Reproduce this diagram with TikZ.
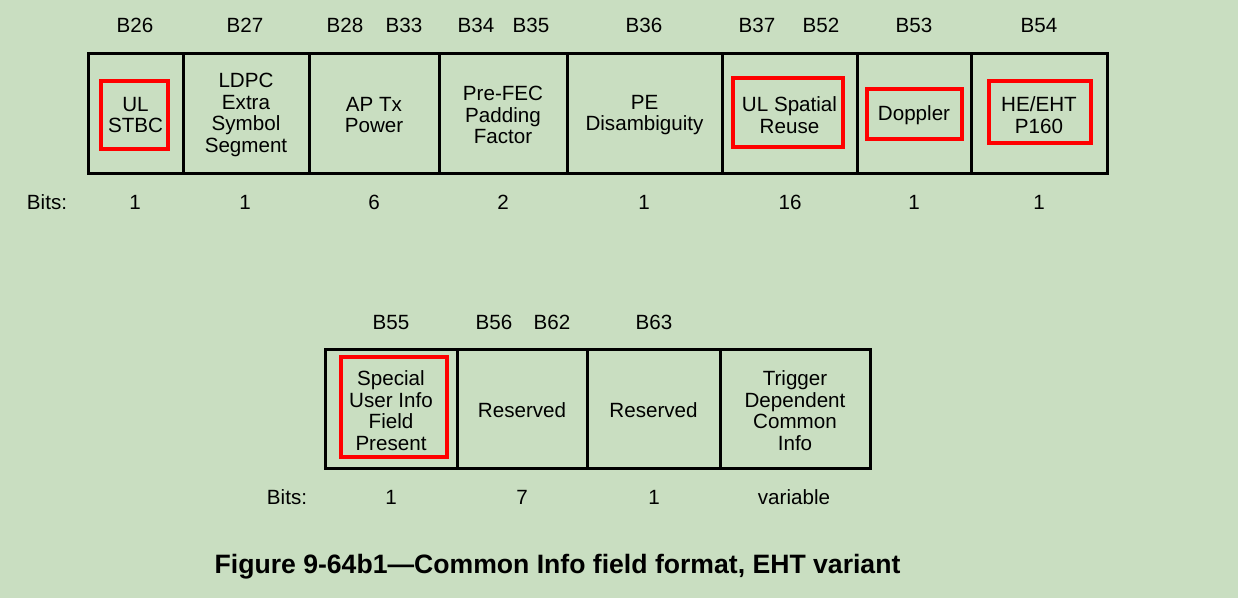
\documentclass[tikz,border=0pt]{standalone}
\usepackage{fontspec}
\setmainfont{Liberation Sans}
\definecolor{bggreen}{RGB}{201,222,193}
\tikzset{
	cell/.style={draw, line width=3pt, minimum height=120pt, inner sep=0pt, label={[align=center, yshift=-2pt]center:#1}},
	hilite/.style={draw=red, line width=4pt, inner sep=0pt},
	tag/.style={anchor=base},
}
\begin{document}
\begin{tikzpicture}[x=1pt,y=-1pt,font=\fontsize{20.6}{21.5}\selectfont]
	\fill[bggreen] (0,0) rectangle (1238,598);
	\useasboundingbox (0,0) rectangle (1238,598);
	% upper row of fields
	\node[cell={UL\\STBC}, minimum width=95pt] (c26) at (135.5,113) {};
	\node[cell={LDPC\\Extra\\Symbol\\Segment}, minimum width=126pt] (c27) at (246,113) {};
	\node[cell={AP Tx\\Power}, minimum width=130pt] (c28) at (374,113) {};
	\node[cell={Pre-FEC\\Padding\\Factor}, minimum width=128pt] (c34) at (503,113) {};
	\node[cell={PE\\Disambiguity}, minimum width=155pt] (c36) at (644.5,113) {};
	\node[cell={UL Spatial\\Reuse}, minimum width=135pt] (c37) at (789.5,113) {};
	\node[cell={Doppler}, minimum width=114pt] (c53) at (914,113) {};
	\node[cell={HE/EHT\\P160}, minimum width=136pt] (c54) at (1039,113) {};
	\foreach \t/\x in {B26/135,B27/245,B28/345,B33/404,B34/476,B35/531,B36/644,B37/757,B52/821,B53/914,B54/1039}
		\node[tag] (l\t) at (\x,32.5) {\t};
	\node[tag] (bitsA) at (47,209.5) {Bits:};
	\foreach \i/\v/\x in {1/1/135,2/1/245,3/6/374,4/2/503,5/1/644,6/16/790,7/1/914,8/1/1039}
		\node[tag] (a\i) at (\x,209.5) {\v};
	% lower row of fields
	\node[cell={Special\\User Info\\Field\\Present}, minimum width=132pt, minimum height=119pt] (c55) at (391,408.5) {};
	\node[cell={Reserved}, minimum width=130pt, minimum height=119pt] (c56) at (522,408.5) {};
	\node[cell={Reserved}, minimum width=133pt, minimum height=119pt] (c63) at (653.5,408.5) {};
	\node[cell={Trigger\\Dependent\\Common\\Info}, minimum width=150pt, minimum height=119pt] (ctd) at (795,408.5) {};
	\foreach \t/\x in {B55/391,B56/494,B62/552,B63/654}
		\node[tag] (l\t) at (\x,329.5) {\t};
	\node[tag] (bitsB) at (287,504.5) {Bits:};
	\foreach \i/\v/\x in {1/1/391,2/7/522,3/1/654,4/variable/794}
		\node[tag] (b\i) at (\x,504.5) {\v};
	% red highlight frames
	\node[hilite, minimum width=67pt, minimum height=68pt] (h26) at (134.5,115) {};
	\node[hilite, minimum width=110pt, minimum height=69pt] (h37) at (788,112.5) {};
	\node[hilite, minimum width=95pt, minimum height=50pt] (h53) at (914.5,114) {};
	\node[hilite, minimum width=102pt, minimum height=62pt] (h54) at (1040,112) {};
	\node[hilite, minimum width=106pt, minimum height=100pt] (h55) at (394,407) {};
	\node[font=\bfseries\fontsize{26.6}{28}\selectfont] (cap) at (557.5,567) {Figure 9-64b1—Common Info field format, EHT variant};
\end{tikzpicture}
\end{document}
